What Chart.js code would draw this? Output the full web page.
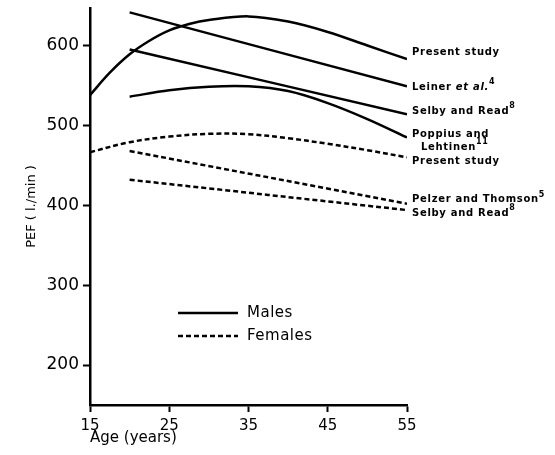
<!DOCTYPE html>
<html>
<head>
<meta charset="utf-8">
<script src="https://cdn.jsdelivr.net/npm/chart.js@4.4.1/dist/chart.umd.min.js"></script>
<style>
  html, body { margin: 0; padding: 0; background: #fff; }
  #wrap { width: 555px; height: 455px; }
</style>
</head>
<body>
<div id="wrap"><canvas id="chart"></canvas></div>
<script>
// ages (years) and PEF values (l./min)
const malePresentAges = [15, 17.5, 20, 22.5, 25, 27.5, 30, 35, 40, 45, 50, 55];
const malePresent = [538, 566, 589, 606, 619, 627, 632, 636.5, 630, 617, 600, 583];

const ages = [15, 20, 25, 30, 35, 40, 45, 50, 55];
const femalePresent = [466.5, 479, 486, 489.5, 489, 484, 477, 469, 460];

const poppiusAges = [20, 25, 30, 35, 40, 45, 50, 55];
const poppius = [536, 544, 548.5, 549, 543, 528, 508, 485];

const lineAges = [20, 55];
const leiner = [641.5, 549];
const selbyMale = [595, 514];
const pelzer = [468, 402];
const selbyFemale = [432, 394];

const xTicks = [15, 25, 35, 45, 55];
const yTicks = [200, 300, 400, 500, 600];

function pts(xs, ys) {
    return xs.map((x, i) => ({ x: x, y: ys[i] }));
}

const SOLID = [];
const DASH = [5, 3];

function series(label, xs, ys, dash) {
    return {
        label: label,
        data: pts(xs, ys),
        borderColor: "#000",
        borderWidth: 2.5,
        borderDash: dash,
        pointRadius: 0,
        fill: false,
        tension: 0.35
    };
}

// text next to the line ends, y given in l./min
const endLabels = [
    { parts: [["Present study"]], y: 592, dx: 0 },
    { parts: [["Leiner "], ["et al.", "i"], ["4", "s"]], y: 548, dx: 0 },
    { parts: [["Selby and Read"], ["8", "s"]], y: 518, dx: 0 },
    { parts: [["Poppius and"]], y: 489, dx: 0 },
    { parts: [["Lehtinen"], ["11", "s"]], y: 473, dx: 9 },
    { parts: [["Present study"]], y: 455, dx: 0 },
    { parts: [["Pelzer and Thomson"], ["5", "s"]], y: 407, dx: 0 },
    { parts: [["Selby and Read"], ["8", "s"]], y: 390, dx: 0 }
];

const annotations = {
    id: "annotations",
    afterDraw(c) {
        const ctx = c.ctx;
        const ys = c.scales.y;
        const x0 = c.chartArea.right + 5;
        ctx.save();
        ctx.fillStyle = "#000";
        ctx.textBaseline = "middle";
        ctx.textAlign = "left";
        ctx.letterSpacing = "0.7px";
        endLabels.forEach(l => {
            let x = x0 + l.dx;
            const y = ys.getPixelForValue(l.y);
            l.parts.forEach(p => {
                if (p[1] === "s") {
                    ctx.font = "bold 8px 'DejaVu Sans'";
                    ctx.fillText(p[0], x, y - 5);
                } else if (p[1] === "i") {
                    ctx.font = "italic bold 10px 'DejaVu Sans'";
                    ctx.fillText(p[0], x, y);
                } else {
                    ctx.font = "bold 10px 'DejaVu Sans'";
                    ctx.fillText(p[0], x, y);
                }
                x += ctx.measureText(p[0]).width;
            });
        });

        // legend
        ctx.letterSpacing = "0.5px";
        ctx.strokeStyle = "#000";
        ctx.lineWidth = 2.5;
        ctx.beginPath();
        ctx.moveTo(178, 313);
        ctx.lineTo(238, 313);
        ctx.stroke();
        ctx.setLineDash(DASH);
        ctx.beginPath();
        ctx.moveTo(178, 336);
        ctx.lineTo(238, 336);
        ctx.stroke();
        ctx.setLineDash([]);
        ctx.font = "15px 'DejaVu Sans'";
        ctx.fillText("Males", 247, 313);
        ctx.fillText("Females", 247, 336);
        ctx.restore();
    }
};

const ctx = document.getElementById("chart").getContext("2d");

new Chart(ctx, {
    type: "line",
    data: {
        datasets: [
            series("Present study (males)", malePresentAges, malePresent, SOLID),
            series("Leiner et al.", lineAges, leiner, SOLID),
            series("Selby and Read (males)", lineAges, selbyMale, SOLID),
            series("Poppius and Lehtinen", poppiusAges, poppius, SOLID),
            series("Present study (females)", ages, femalePresent, DASH),
            series("Pelzer and Thomson", lineAges, pelzer, DASH),
            series("Selby and Read (females)", lineAges, selbyFemale, DASH)
        ]
    },
    options: {
        responsive: true,
        maintainAspectRatio: false,
        animation: false,
        layout: { padding: { left: 0, top: 8, right: 148, bottom: 0 } },
        plugins: {
            legend: { display: false },
            tooltip: { enabled: false }
        },
        scales: {
            x: {
                type: "linear",
                min: 15,
                max: 55,
                afterBuildTicks: s => { s.ticks = xTicks.map(v => ({ value: v })); },
                afterFit: s => { s.height = 50; s.paddingLeft = 0; s.paddingRight = 0; },
                grid: { drawOnChartArea: false, tickLength: 7, tickWidth: 2, tickColor: "#000" },
                border: { display: true, color: "#000", width: 2.5 },
                ticks: {
                    color: "#000",
                    padding: 5,
                    maxRotation: 0,
                    font: { family: "DejaVu Sans", size: 15 }
                },
                title: {
                    display: true,
                    text: "Age (years)",
                    align: "start",
                    color: "#000",
                    font: { family: "DejaVu Sans", size: 15 },
                    padding: { top: 0, bottom: 8 }
                }
            },
            y: {
                min: 150,
                max: 647,
                afterBuildTicks: s => { s.ticks = yTicks.map(v => ({ value: v })); },
                afterFit: s => { s.width = 90; s.paddingTop = 0; s.paddingBottom = 0; },
                grid: { drawOnChartArea: false, tickLength: 7, tickWidth: 2, tickColor: "#000" },
                border: { display: true, color: "#000", width: 2.5 },
                ticks: {
                    color: "#000",
                    padding: 4,
                    font: { family: "DejaVu Sans", size: 17 }
                },
                title: {
                    display: true,
                    text: "PEF ( l./min )",
                    color: "#000",
                    font: { family: "DejaVu Sans", size: 13 },
                    padding: { top: 24, bottom: 0 }
                }
            }
        }
    },
    plugins: [annotations]
});
</script>
</body>
</html>
